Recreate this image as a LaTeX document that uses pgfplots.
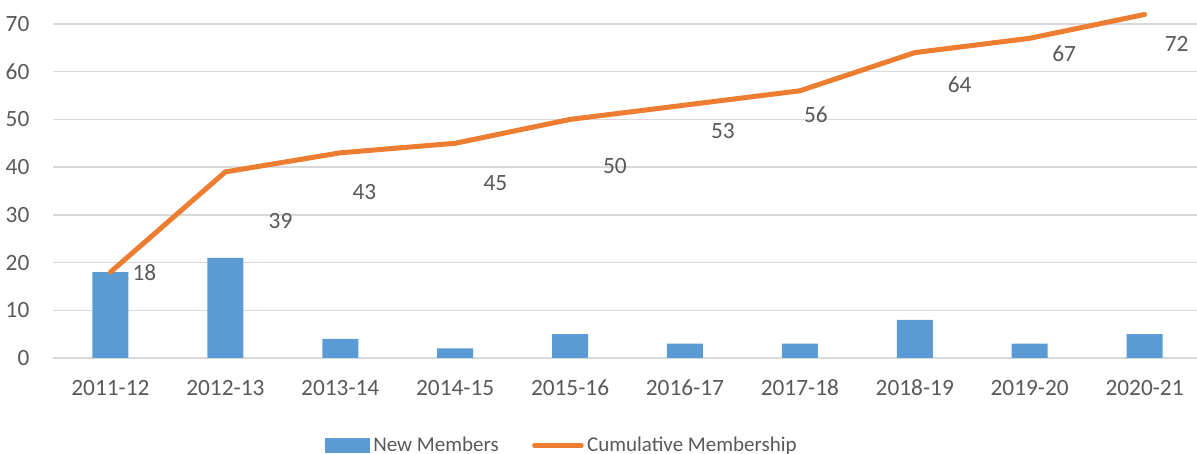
\documentclass[border=0pt]{standalone}
\usepackage{fontspec}
\setmainfont{Carlito}
\usepackage{pgfplots}
\pgfplotsset{compat=1.18}
\definecolor{barblue}{HTML}{5B9BD5}
\definecolor{lineorange}{HTML}{ED7D31}
\definecolor{gridgray}{HTML}{D9D9D9}
\definecolor{textgray}{HTML}{595959}
\begin{document}
\begin{tikzpicture}
\path[use as bounding box] (0,0) rectangle (718.2pt,272.4pt);
\clip (0,0) rectangle (718.2pt,272.4pt);
\begin{axis}[
  at={(31.8pt,57.6pt)}, anchor=south west,
  scale only axis, width=689.4pt, height=200.4pt,
  xmin=-0.5, xmax=9.5, ymin=0, ymax=70,
  clip=false,
  axis line style={draw=none},
  ytick={0,10,...,70},
  xtick={0,...,9},
  xticklabels={2011-12,2012-13,2013-14,2014-15,2015-16,2016-17,2017-18,2018-19,2019-20,2020-21},
  major tick length=0pt,
  ymajorgrids,
  grid style={gridgray, line width=0.9pt},
  tick label style={font=\fontsize{14}{16}\selectfont, text=textgray},
  /pgf/number format/assume math mode=true,
  yticklabel style={anchor=east, inner sep=0pt, xshift=-14pt},
  xticklabel style={anchor=north, inner sep=0pt, yshift=-13pt},
  legend style={at={(0.4434,-0.262)}, anchor=center, draw=none, fill=none,
    legend columns=2, font=\fontsize{12.6}{14}\selectfont, text=textgray,
    /tikz/every even column/.append style={column sep=18pt}},
]
\addplot[ybar, bar width=21.6pt, fill=barblue, draw=none,
  legend image code/.code={\fill[barblue] (0pt,-4.5pt) rectangle (27pt,4.5pt);}]
  coordinates {(0,18)(1,21)(2,4)(3,2)(4,5)(5,3)(6,3)(7,8)(8,3)(9,5)};
\addlegendentry{New Members}
\addplot[lineorange, line width=3pt, line cap=round, line join=round, mark=none,
  legend image code/.code={\draw[lineorange, line width=3pt, line cap=round] (0pt,0pt) -- (28pt,0pt);}]
  coordinates {(0,18)(1,39)(2,43)(3,45)(4,50)(5,53)(6,56)(7,64)(8,67)(9,72)};
\addlegendentry{Cumulative Membership}
\begin{scope}[every node/.style={font=\fontsize{14}{16}\selectfont, text=textgray}]
\node at (axis cs:0.296,17.8) {18};
\node at (axis cs:1.48,28.7) {39};
\node at (axis cs:2.21,34.8) {43};
\node at (axis cs:3.35,36.7) {45};
\node at (axis cs:4.39,40.2) {50};
\node at (axis cs:5.33,47.6) {53};
\node at (axis cs:6.14,50.9) {56};
\node at (axis cs:7.39,57.2) {64};
\node at (axis cs:8.30,63.7) {67};
\node at (axis cs:9.28,65.8) {72};
\end{scope}
\end{axis}
\end{tikzpicture}
\end{document}
